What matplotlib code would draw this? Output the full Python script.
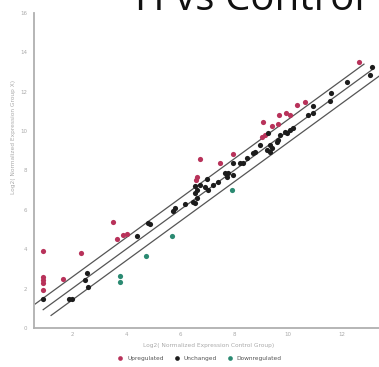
import matplotlib
matplotlib.use("Agg")
import matplotlib.pyplot as plt
import numpy as np

# log2 normalized expression, control (x) vs group (y)
up_x = [0.93, 2.33, 0.93, 0.93, 0.93, 1.67, 0.93, 3.52, 3.67, 3.89, 4.04, 6.74, 6.63, 6.59,
        7.48, 7.96, 9.04, 9.15, 9.07, 9.41, 9.63, 9.67, 9.93, 10.33, 10.63, 10.07, 12.63]
up_y = [3.91, 3.81, 2.59, 2.44, 2.28, 2.49, 1.93, 5.38, 4.52, 4.72, 4.77, 8.58, 7.66, 7.50,
        8.38, 8.83, 9.70, 9.80, 10.46, 10.25, 10.36, 10.81, 10.91, 11.32, 11.47, 10.81, 13.50]

same_x = [0.93, 2.56, 2.48, 2.59, 1.89, 2.00, 4.41, 4.81, 4.89, 5.74, 5.81, 6.19, 6.48, 6.56,
          6.63, 6.56, 6.63, 6.74, 6.93, 7.04, 7.22, 7.41, 7.74, 7.78, 7.96, 8.22, 8.33, 8.48,
          8.70, 8.78, 9.22, 9.33, 9.41, 9.59, 9.70, 9.96, 10.07, 10.19, 7.00, 7.67, 8.96, 9.26,
          9.33, 9.63, 9.89, 10.93, 10.93, 10.74, 11.59, 11.56, 12.19, 13.04, 13.11, 6.56, 7.96]
same_y = [1.47, 2.79, 2.44, 2.08, 1.47, 1.47, 4.67, 5.33, 5.28, 5.94, 6.09, 6.29, 6.40, 7.21,
          7.01, 6.85, 6.60, 7.25, 7.16, 7.01, 7.26, 7.41, 7.66, 7.87, 8.38, 8.38, 8.38, 8.63,
          8.88, 8.93, 9.04, 9.29, 9.14, 9.44, 9.80, 9.90, 10.05, 10.15, 7.56, 7.87, 9.29, 9.90,
          8.93, 9.54, 9.95, 11.27, 10.91, 10.81, 11.93, 11.52, 12.49, 12.84, 13.25, 6.35, 7.77]

down_x = [3.78, 3.78, 4.74, 5.70, 7.93]
down_y = [2.64, 2.34, 3.65, 4.67, 7.01]

threshold = np.log2(1.5)
x_ticks = [2, 4, 6, 8, 10, 12]
y_ticks = [0, 2, 4, 6, 8, 10, 12, 14, 16]

RED = '#b8325a'
BLACK = '#1c1c1c'
GREEN = '#2b8a72'

fig = plt.figure(figsize=(3.79, 3.67), dpi=100)
ax = fig.add_axes([34 / 379, 39 / 367, 350 / 379, 315 / 367])

# fold-change guide lines: y = x and the +/- threshold band
all_x = up_x + same_x + down_x
x0, x1 = min(all_x), max(all_x)
h = threshold / 2
ax.plot([x0, x1], [x0, x1], color='#555555', lw=0.9, zorder=1)
ax.plot([x0 - h, x1 - h], [x0 + h, x1 + h], color='#555555', lw=0.9, zorder=1)
ax.plot([x0 + h, x1 + h], [x0 - h, x1 - h], color='#555555', lw=0.9, zorder=1)

ax.scatter(up_x, up_y, s=14, color=RED, label='Upregulated', zorder=3, linewidths=0)
ax.scatter(same_x, same_y, s=14, color=BLACK, label='Unchanged', zorder=3, linewidths=0)
ax.scatter(down_x, down_y, s=14, color=GREEN, label='Downregulated', zorder=3, linewidths=0)

ax.set_xlim(0.59, 13.56)
ax.set_ylim(0, 16)
ax.set_xticks(x_ticks)
ax.set_yticks(y_ticks)
ax.tick_params(length=0, labelsize=4, labelcolor='#aaaaaa')
ax.tick_params(axis='x', pad=3)
ax.tick_params(axis='y', pad=5)
for side in ['top', 'right']:
    ax.spines[side].set_visible(False)
for side in ['left', 'bottom']:
    ax.spines[side].set_color('#b0b0b0')
    ax.spines[side].set_linewidth(1.3)

fig.text(209 / 379, 1 - 345 / 367, 'Log2( Normalized Expression Control Group)',
         ha='center', va='center', fontsize=4.2, color='#aaaaaa')
fig.text(14 / 379, 1 - 137 / 367, 'Log2( Normalized Expression Group X)',
         ha='center', va='center', rotation=90, fontsize=4.2, color='#aaaaaa')

fig.text(135 / 379, 1 - 10 / 367, 'H vs Control', ha='left', va='baseline',
         fontsize=29, family='Open Sans', color='#111111')

ax.legend(loc='center', bbox_to_anchor=(198 / 379, 1 - 358 / 367),
          bbox_transform=fig.transFigure, ncol=3, frameon=False, fontsize=4.2,
          handletextpad=0.2, columnspacing=1.2, markerscale=0.9,
          labelcolor='#555555')

fig.savefig('out.png', dpi=100)
